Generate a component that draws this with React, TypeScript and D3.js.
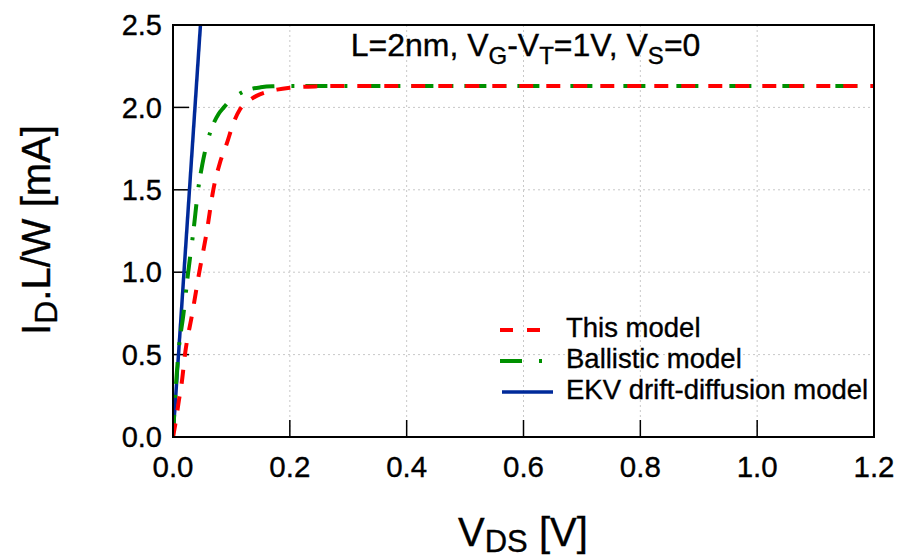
import React from "react";
import * as d3 from "d3";

const W = 898;
const H = 560;

const xTicks = [0, 0.2, 0.4, 0.6, 0.8, 1.0, 1.2];
const yTicks = [0, 0.5, 1.0, 1.5, 2.0, 2.5];

// This model (red dashed)
const thisVds = [0, 0.005, 0.01, 0.015, 0.0205, 0.033, 0.045, 0.058, 0.069, 0.08, 0.092, 0.104, 0.115, 0.13, 0.143, 0.16, 0.178, 0.2, 0.22, 0.25, 0.3, 0.4, 0.6, 0.8, 1.0, 1.2];
const thisId = [0, 0.1, 0.22, 0.33, 0.5, 0.75, 1.0, 1.25, 1.5, 1.66, 1.78, 1.91, 1.99, 2.04, 2.07, 2.093, 2.108, 2.119, 2.125, 2.128, 2.13, 2.13, 2.13, 2.13, 2.13, 2.13];

// Ballistic model (green dash-dot)
const ballVds = [0, 0.003, 0.009, 0.018, 0.026, 0.035, 0.043, 0.05, 0.058, 0.068, 0.078, 0.087, 0.097, 0.108, 0.12, 0.135, 0.15, 0.17, 0.2, 0.3, 0.6, 0.9, 1.2];
const ballId = [0, 0.2, 0.5, 0.75, 1.0, 1.25, 1.5, 1.65, 1.78, 1.89, 1.96, 2.0, 2.04, 2.07, 2.095, 2.113, 2.122, 2.128, 2.13, 2.13, 2.13, 2.13, 2.13];

// EKV drift-diffusion model (blue solid)
const ekvVds = [0, 0.05];
const ekvId = [0, 2.66];

const legendLabels = ["This model", "Ballistic model", "EKV drift-diffusion model"];

const FONT = "'Liberation Sans', Arial, sans-serif";

export default function App() {
  const left = 173, right = 874, top = 25, bottom = 437;
  const x = d3.scaleLinear().domain([0, 1.2]).range([left, right]);
  const y = d3.scaleLinear().domain([0, 2.5]).range([bottom, top]);

  const line = d3
    .line<[number, number]>()
    .x((d) => x(d[0]))
    .y((d) => y(d[1]))
    .curve(d3.curveMonotoneX);

  const thisPts = thisVds.map((v, i) => [v, thisId[i]] as [number, number]);
  const ballPts = ballVds.map((v, i) => [v, ballId[i]] as [number, number]);
  const ekvPts = ekvVds.map((v, i) => [v, ekvId[i]] as [number, number]);

  const red = "#ff0000";
  const green = "#009000";
  const blue = "#002a9a";
  const redDash = "14 13";
  const greenDash = "22 17 3 11";

  const legendX = 500;
  const legendRows = [330, 361, 392];
  const ts = { stroke: "#000", strokeWidth: 0.35 };

  return (
    <svg
      width={W}
      height={H}
      style={{ position: "absolute", left: 0, top: 0, background: "#fff" }}
      fontFamily={FONT}
    >
      <defs>
        <clipPath id="plotclip">
          <rect x={left} y={top} width={right - left} height={bottom - top} />
        </clipPath>
      </defs>
      <rect x={0} y={0} width={W} height={H} fill="#fff" />

      {/* grid */}
      {xTicks.slice(1, -1).map((t) => (
        <line key={"gx" + t} x1={x(t)} x2={x(t)} y1={top} y2={bottom} stroke="#c8c8c8" strokeWidth={1} strokeDasharray="2 3" />
      ))}
      {yTicks.slice(1, -1).map((t) => (
        <line key={"gy" + t} x1={left} x2={right} y1={y(t)} y2={y(t)} stroke="#c8c8c8" strokeWidth={1} strokeDasharray="2 3" />
      ))}

      {/* ticks */}
      {xTicks.slice(1, -1).map((t) => (
        <line key={"tx" + t} x1={x(t)} x2={x(t)} y1={bottom} y2={bottom - 17} stroke="#000" strokeWidth={1.5} />
      ))}
      {yTicks.slice(1, -1).map((t) => (
        <line key={"ty" + t} x1={left} x2={left + 16} y1={y(t)} y2={y(t)} stroke="#000" strokeWidth={1.5} />
      ))}

      {/* curves */}
      <g clipPath="url(#plotclip)">
        <path d={line(ekvPts) || ""} fill="none" stroke={blue} strokeWidth={3.5} />
        <path d={line(ballPts) || ""} fill="none" stroke={green} strokeWidth={4} strokeDasharray={greenDash} />
        <path d={line(thisPts) || ""} fill="none" stroke={red} strokeWidth={4} strokeDasharray={redDash} />
      </g>

      {/* frame */}
      <rect x={left} y={top} width={right - left} height={bottom - top} fill="none" stroke="#000" strokeWidth={2} />

      {/* tick labels */}
      {xTicks.map((t) => (
        <text key={"lx" + t} x={x(t)} y={477} textAnchor="middle" fontSize={29.5} fill="#000" {...ts}>
          {t.toFixed(1)}
        </text>
      ))}
      {yTicks.map((t) => (
        <text key={"ly" + t} x={162} y={y(t)} dy="0.35em" textAnchor="end" fontSize={29} fill="#000" {...ts}>
          {t.toFixed(1)}
        </text>
      ))}

      {/* annotation */}
      <text x={(left + right) / 2 + 2} y={56} textAnchor="middle" fontSize={32} fill="#000" {...ts}>
        L=2nm, V<tspan fontSize={24} dy={8}>G</tspan>
        <tspan dy={-8}>-V</tspan>
        <tspan fontSize={24} dy={8}>T</tspan>
        <tspan dy={-8}>=1V, V</tspan>
        <tspan fontSize={24} dy={8}>S</tspan>
        <tspan dy={-8}>=0</tspan>
      </text>

      {/* legend */}
      <line x1={legendX} x2={legendX + 40} y1={legendRows[0]} y2={legendRows[0]} stroke={red} strokeWidth={4} strokeDasharray="13 14" />
      <line x1={legendX} x2={legendX + 42} y1={legendRows[1]} y2={legendRows[1]} stroke={green} strokeWidth={4} strokeDasharray="22 17 3 11" />
      <line x1={legendX + 2} x2={legendX + 53} y1={legendRows[2]} y2={legendRows[2]} stroke={blue} strokeWidth={3.5} />
      {legendLabels.map((l, i) => (
        <text key={l} x={566} y={legendRows[i] + 7} fontSize={27.5} fill="#000" {...ts}>
          {l}
        </text>
      ))}

      {/* axis labels */}
      <text x={458} y={546} fontSize={40} fill="#000" {...ts}>
        V<tspan fontSize={31} dy={6}>DS</tspan>
        <tspan dy={-6}> [V]</tspan>
      </text>
      <text transform={`translate(50,230) rotate(-90)`} textAnchor="middle" fontSize={40} fill="#000" {...ts}>
        I<tspan fontSize={32} dy={7}>D</tspan>
        <tspan dy={-7}>.L/W [mA]</tspan>
      </text>
    </svg>
  );
}
